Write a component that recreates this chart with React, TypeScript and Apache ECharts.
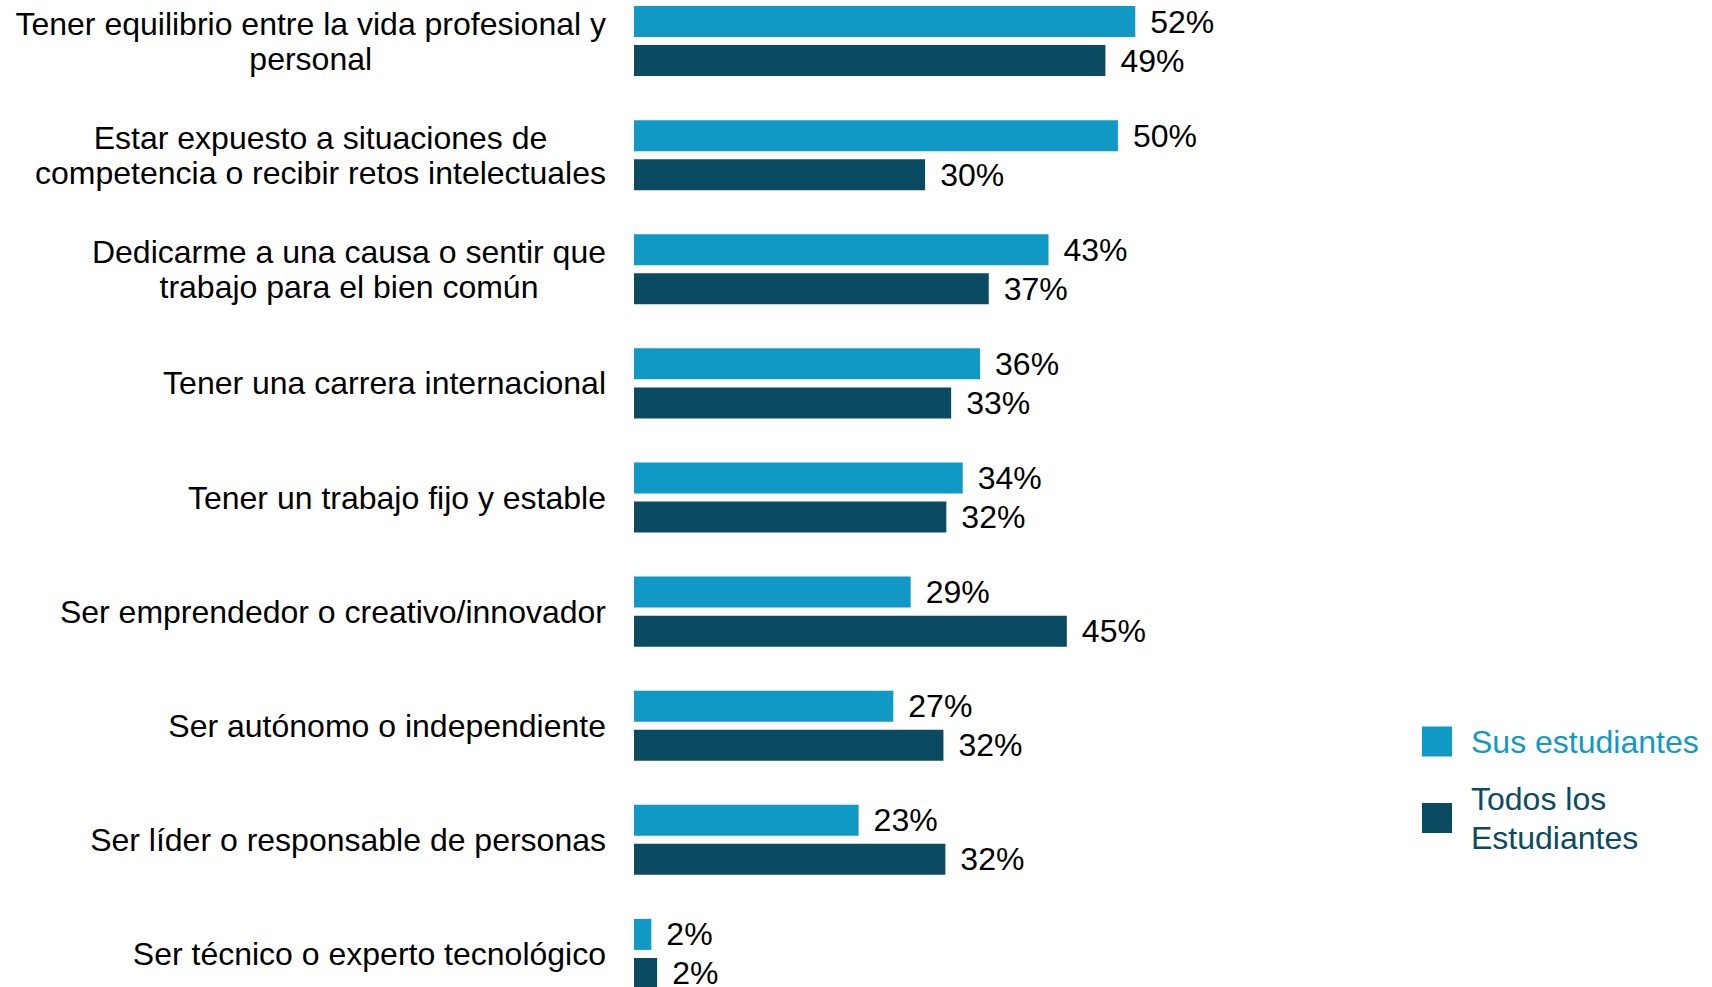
import React, { useEffect, useRef } from "react";
import * as echarts from "echarts";

const categories: string[] = [
  "Tener equilibrio entre la vida profesional y\npersonal",
  "Estar expuesto a situaciones de\ncompetencia o recibir retos intelectuales",
  "Dedicarme a una causa o sentir que\ntrabajo para el bien común",
  "Tener una carrera internacional",
  "Tener un trabajo fijo y estable",
  "Ser emprendedor o creativo/innovador",
  "Ser autónomo o independiente",
  "Ser líder o responsable de personas",
  "Ser técnico o experto tecnológico",
];

const seriesNames: string[] = ["Sus estudiantes", "Todos los Estudiantes"];
// values; labels show them rounded
const susEstudiantes: number[] = [52, 50.2, 43, 35.9, 34.1, 28.7, 26.9, 23.3, 1.8];
const todosEstudiantes: number[] = [48.9, 30.2, 36.8, 32.9, 32.4, 44.9, 32.1, 32.3, 2.4];

const LIGHT = "#1099c5";
const DARK = "#0a4b62";
const FONT = '"Liberation Sans", Arial, sans-serif';

export default function App() {
  const ref = useRef<HTMLDivElement>(null);

  useEffect(() => {
    if (!ref.current) return;
    const chart = echarts.init(ref.current, undefined, { renderer: "svg" });
    const barLabel = {
      show: true,
      position: "right",
      distance: 15,
      fontSize: 32,
      fontFamily: FONT,
      color: "#000",
      formatter: (p: any) => `${Math.round(p.value)}%`,
    };
    chart.setOption({
      animation: false,
      backgroundColor: "#fff",
      textStyle: { fontFamily: FONT },
      grid: { left: 634, right: 114, top: 0, bottom: 0, containLabel: false },
      xAxis: { type: "value", min: 0, max: 100, show: false },
      yAxis: {
        type: "category",
        inverse: true,
        data: categories,
        axisLine: { show: false },
        axisTick: { show: false },
        splitLine: { show: false },
        axisLabel: {
          interval: 0,
          margin: 28,
          align: "right",
          fontSize: 32,
          lineHeight: 35,
          color: "#000",
          fontFamily: FONT,
          formatter: (v: string) =>
            v
              .split("\n")
              .map((l) => `{c|${l}}`)
              .join("\n"),
          rich: {
            c: { align: "center", fontSize: 32, lineHeight: 35, color: "#000", fontFamily: FONT },
          },
        },
      },
      legend: {
        orient: "vertical",
        left: 1422,
        top: 738,
        padding: 0,
        itemWidth: 30,
        itemHeight: 30,
        itemGap: 14.5,
        icon: "rect",
        selectedMode: false,
        formatter: (name: string) => (name === seriesNames[1] ? "Todos los\nEstudiantes" : name),
        textStyle: { fontSize: 32, lineHeight: 39, fontFamily: FONT, padding: [0, 0, 0, 14] },
        data: [
          { name: seriesNames[0], textStyle: { color: LIGHT } },
          { name: seriesNames[1], textStyle: { color: DARK, padding: [7, 0, 0, 14] } },
        ],
      },
      series: [
        {
          name: seriesNames[0],
          type: "bar",
          data: susEstudiantes,
          barWidth: 31,
          barGap: "26%",
          itemStyle: { color: LIGHT },
          label: barLabel,
        },
        {
          name: seriesNames[1],
          type: "bar",
          data: todosEstudiantes,
          barWidth: 31,
          barGap: "26%",
          itemStyle: { color: DARK },
          label: barLabel,
        },
      ],
    });
    return () => chart.dispose();
  }, []);

  return (
    <div
      style={{
        position: "absolute",
        left: 0,
        top: 0,
        width: 1712,
        height: 987,
        overflow: "hidden",
        background: "#fff",
      }}
    >
      <div
        ref={ref}
        style={{ position: "absolute", left: 0, top: -16, width: 1712, height: 1027 }}
      />
    </div>
  );
}
